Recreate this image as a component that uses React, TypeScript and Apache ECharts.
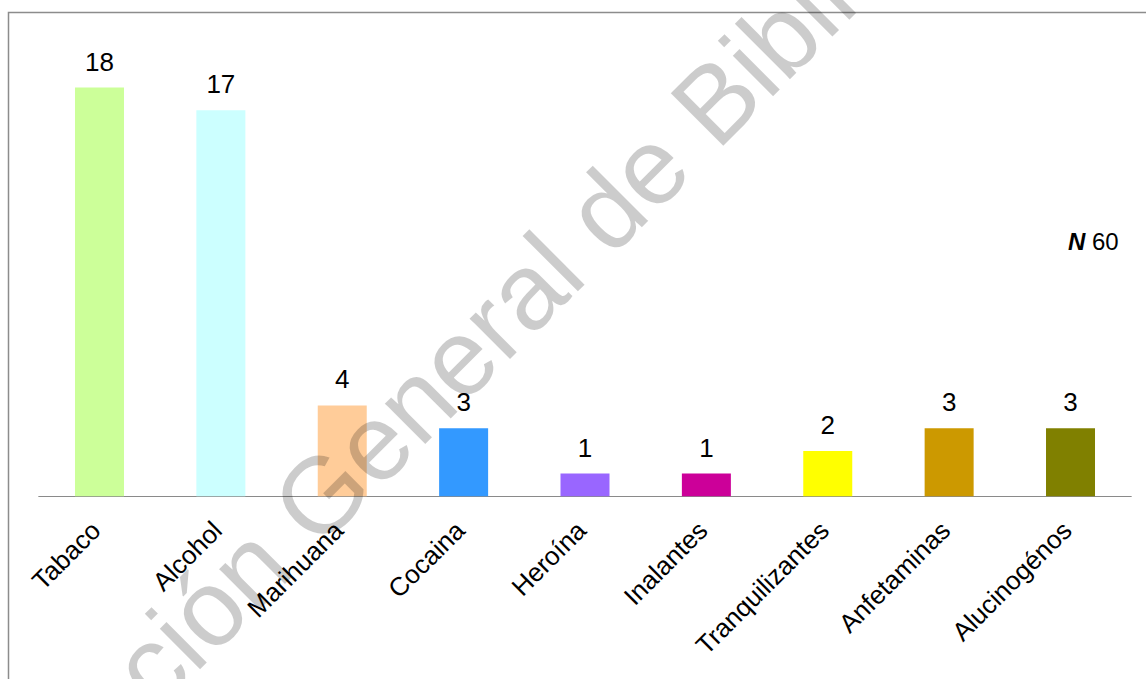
import React, { useEffect, useRef } from "react";
import * as echarts from "echarts";

const categories = [
  "Tabaco",
  "Alcohol",
  "Marihuana",
  "Cocaina",
  "Heroína",
  "Inalantes",
  "Tranquilizantes",
  "Anfetaminas",
  "Alucinogénos",
];
const values = [18, 17, 4, 3, 1, 1, 2, 3, 3];
const barColors = [
  "#CCFF99",
  "#CCFFFF",
  "#FFCC99",
  "#3399FF",
  "#9966FF",
  "#CC0099",
  "#FFFF00",
  "#CC9900",
  "#808000",
];
const sampleLabel = "N";
const sampleSize = 60;
const watermarkHead = "Dirección";
const watermarkTail = "General de Bibliotecas";

const FONT = 'Arial, "Liberation Sans", sans-serif';

export default function App() {
  const ref = useRef<HTMLDivElement>(null);

  useEffect(() => {
    if (!ref.current) return;
    const chart = echarts.init(ref.current, null, { renderer: "svg" });
    const wmSize = 108;
    const option: any = {
      animation: false,
      backgroundColor: "#ffffff",
      grid: { left: 38.8, right: 14.8, top: 87.5, bottom: 182.7, containLabel: false },
      xAxis: {
        type: "category",
        data: categories,
        axisLine: { lineStyle: { color: "#8a8a8a", width: 1.2 } },
        axisTick: { show: false },
        axisLabel: {
          rotate: 45,
          interval: 0,
          margin: 26,
          padding: [0, 5, 0, 0],
          fontSize: 26,
          color: "#000",
          fontFamily: FONT,
        },
      },
      yAxis: { type: "value", min: 0, max: 18, show: false },
      series: [
        {
          type: "bar",
          barWidth: 49,
          data: values.map((v, i) => ({ value: v, itemStyle: { color: barColors[i] } })),
          label: {
            show: true,
            position: "top",
            distance: 13,
            fontSize: 26,
            color: "#000",
            fontFamily: FONT,
          },
        },
      ],
      graphic: [
        {
          type: "rect",
          silent: true,
          z: 0,
          shape: { x: 8.5, y: 12.5, width: 1300, height: 1000 },
          style: { fill: "none", stroke: "#8c8c8c", lineWidth: 1.5 },
        },
        {
          type: "text",
          silent: true,
          x: 1068,
          y: 241.5,
          style: {
            text: `{n|${sampleLabel}} ${sampleSize}`,
            fontSize: 24,
            fontFamily: FONT,
            fill: "#000",
            verticalAlign: "middle",
            align: "left",
            rich: {
              n: { fontWeight: "bold", fontStyle: "italic", fontSize: 24, fontFamily: FONT, fill: "#000" },
            },
          },
        },
        {
          type: "group",
          silent: true,
          x: 318,
          y: 551,
          rotation: Math.PI / 4,
          z: 100,
          children: [
            {
              type: "text",
              x: -0.278 * wmSize,
              y: -0.3465 * wmSize,
              z: 100,
              style: {
                text: watermarkHead,
                fontSize: wmSize,
                fontFamily: FONT,
                fill: "rgba(0,0,0,0.2)",
                align: "right",
                verticalAlign: "middle",
              },
            },
            {
              type: "text",
              x: 0,
              y: -0.3465 * wmSize,
              z: 100,
              style: {
                text: watermarkTail,
                fontSize: wmSize,
                fontFamily: FONT,
                fill: "rgba(0,0,0,0.2)",
                align: "left",
                verticalAlign: "middle",
              },
            },
          ],
        },
      ],
    };
    chart.setOption(option);
    return () => chart.dispose();
  }, []);

  return (
    <div
      ref={ref}
      style={{ position: "absolute", left: 0, top: 0, width: 1146, height: 679 }}
    />
  );
}
